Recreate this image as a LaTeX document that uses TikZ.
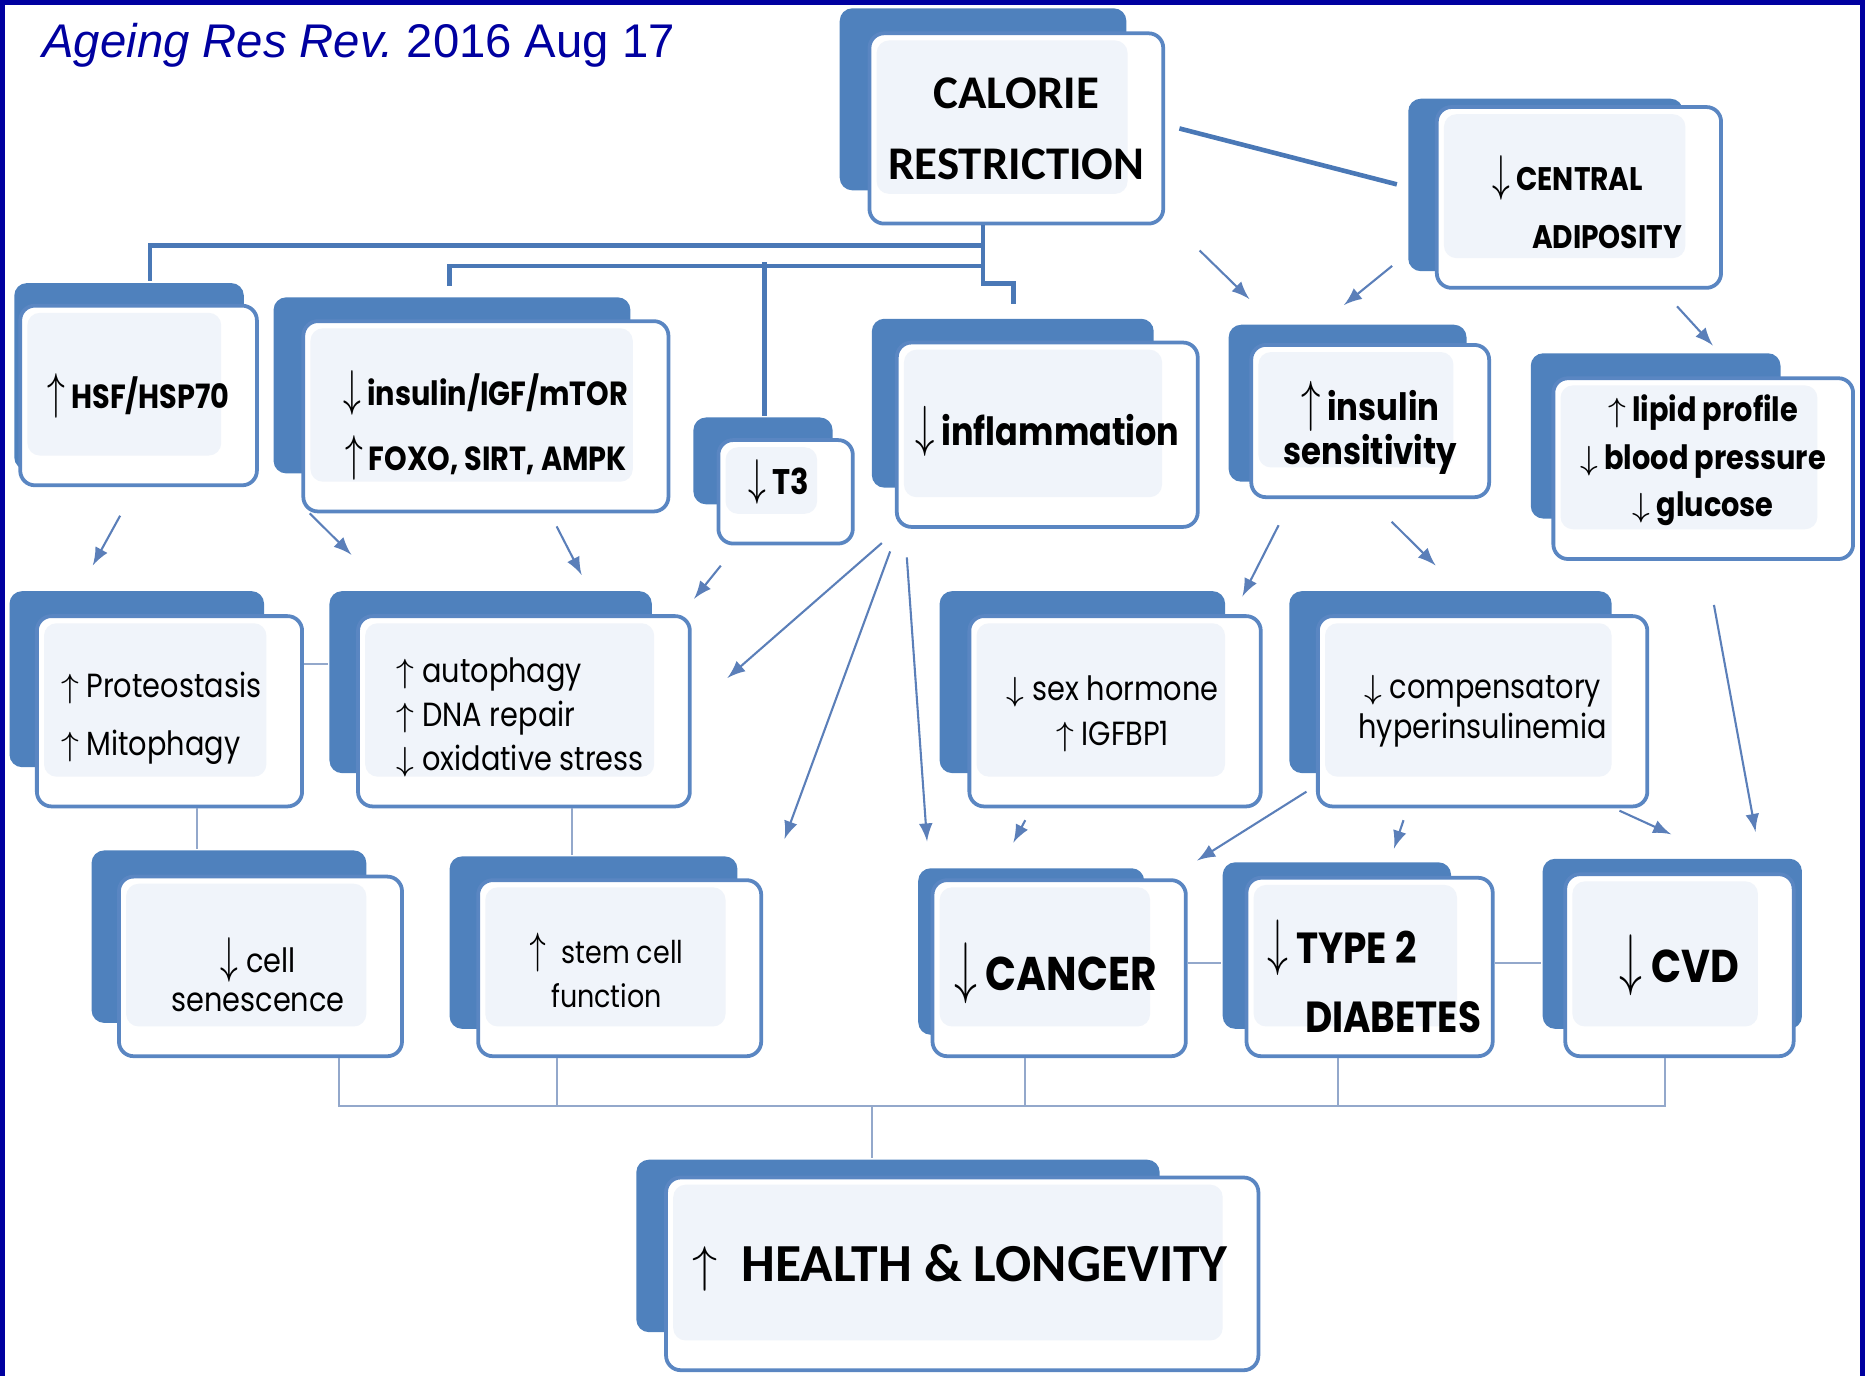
\documentclass[tikz,border=0pt]{standalone}
\usepackage{fontspec}
\usepackage{graphicx}
\setmainfont{Poppins}[FakeStretch=0.86]
\newfontfamily\crfont{Carlito}
\newfontfamily\jfont{Liberation Sans}
\usetikzlibrary{arrows,fit,positioning}
\definecolor{plate}{HTML}{4F81BD}
\definecolor{rim}{HTML}{5A86C2}
\definecolor{tint}{HTML}{F0F4FA}
\definecolor{trunk}{HTML}{4A78B6}
\definecolor{twig}{HTML}{5B7FB9}
\definecolor{busgray}{HTML}{93A8CB}
\definecolor{framecol}{HTML}{0000A0}
\newcommand{\tallup}{\scalebox{1}[1.5]{$\uparrow$}}
\newcommand{\talldn}{\scalebox{1}[1.5]{$\downarrow$}}
\tikzset{
  backplate/.style={fill=plate, rounded corners=3pt},
  frontbox/.style={draw=rim, line width=0.9pt, fill=white, rounded corners=3.5pt,
    inner sep=0pt,
    path picture={\fill[tint, rounded corners=3pt]
      ([shift={(6,6)}]path picture bounding box.north west) rectangle
      ([shift={(-30,-25)}]path picture bounding box.south east);}},
  boxtext/.style={inner sep=0pt, align=center},
  trunkline/.style={draw=trunk, line width=1.1pt},
  twigarrow/.style={draw=twig, line width=0.5pt, -latex},
  busline/.style={draw=busgray, line width=0.5pt},
}
\begin{document}
\begin{tikzpicture}[x=0.01cm,y=-0.01cm]
\useasboundingbox (0,0) rectangle (1568,1157);
% frame
\fill[framecol] (0,0) rectangle (4,1157);
\fill[framecol] (0,0) rectangle (1568,4);
\fill[framecol] (1564,0) rectangle (1568,1157);
\node[anchor=west, inner sep=0pt, text=framecol, font=\jfont\fontsize{11.3}{14}\selectfont] (journal) at (35,38)
  {\textit{Ageing Res Rev.}\ 2016 Aug 17};
% back plates
\foreach \xa/\ya/\xb/\yb in {706/7/947/160, 1184/83/1415/228, 12/238/205/395,
  230/250/530/398, 583/351/700/424, 733/268/970/410, 1033/273/1233/405,
  1287/297/1497/436, 8/497/222/645, 277/497/548/650, 790/497/1030/650,
  1084/497/1355/650, 77/715/308/860, 378/720/620/865, 772/730/962/870,
  1028/725/1220/865, 1297/722/1515/865, 535/975/975/1120}
  \fill[backplate] (\xa,\ya) rectangle (\xb,\yb);
% front boxes
\node[frontbox, fit={(731,28) (978,188)}] (cr) {};
\node[frontbox, fit={(1208,90) (1447,242)}] (ca) {};
\node[frontbox, fit={(17,257) (216,408)}] (hsf) {};
\node[frontbox, fit={(255,270) (562,430)}] (ins) {};
\node[frontbox, fit={(604,370) (717,457)}] (tt) {};
\node[frontbox, fit={(754,288) (1007,443)}] (infl) {};
\node[frontbox, fit={(1052,290) (1252,418)}] (sens) {};
\node[frontbox, fit={(1306,318) (1558,470)}] (lip) {};
\node[frontbox, fit={(31,518) (254,678)}] (prot) {};
\node[frontbox, fit={(301,518) (580,678)}] (auto) {};
\node[frontbox, fit={(815,518) (1060,678)}] (sex) {};
\node[frontbox, fit={(1108,518) (1385,678)}] (comp) {};
\node[frontbox, fit={(100,737) (338,888)}] (sen) {};
\node[frontbox, fit={(402,740) (640,888)}] (stem) {};
\node[frontbox, fit={(784,740) (997,888)}] (canc) {};
\node[frontbox, fit={(1048,738) (1255,888)}] (tdm) {};
\node[frontbox, fit={(1316,735) (1508,888)}] (cvd) {};
\node[frontbox, fit={(560,990) (1058,1152)}] (hl) {};
% texts
\node[boxtext, font=\crfont\bfseries\fontsize{11.2}{17}\selectfont] (crtext) at (cr)
  {CALORIE\\RESTRICTION};
\node[boxtext, align=left, font=\bfseries\fontsize{7.8}{13.7}\selectfont] (catext) at ([shift={(7,4)}]ca.center)
  {\talldn\ CENTRAL\\\hspace*{9.4pt}ADIPOSITY};
\node[boxtext, font=\bfseries\fontsize{8}{10}\selectfont] (hsftext) at (hsf)
  {\tallup\ HSF/HSP70};
\node[boxtext, font=\bfseries\fontsize{8}{15.6}\selectfont] (instext) at ([shift={(0,8)}]ins.center)
  {\talldn\ insulin/IGF/mTOR\\\tallup\ FOXO, SIRT, AMPK};
\node[boxtext, font=\bfseries\fontsize{8.5}{10}\selectfont] (tttext) at ([shift={(-6,-8)}]tt.center)
  {\talldn\ T3};
\node[boxtext, font=\bfseries\fontsize{9.3}{11}\selectfont] (infltext) at ([shift={(0,-3)}]infl.center)
  {\talldn\ inflammation};
\node[boxtext, font=\bfseries\fontsize{9}{10.5}\selectfont] (senstext) at ([shift={(0,6)}]sens.center)
  {\tallup\ insulin\\sensitivity};
\node[boxtext, font=\bfseries\fontsize{8}{11.4}\selectfont] (liptext) at ([shift={(0,-7)}]lip.center)
  {$\uparrow$ lipid profile\\$\downarrow$ blood pressure\\$\downarrow$ glucose};
\node[boxtext, align=left, font=\fontsize{8}{13.7}\selectfont] (prottext) at ([shift={(-7,6)}]prot.center)
  {$\uparrow$ Proteostasis\\$\uparrow$ Mitophagy};
\node[boxtext, align=left, font=\fontsize{8}{10.5}\selectfont] (autotext) at ([shift={(-3,5)}]auto.center)
  {$\uparrow$ autophagy\\$\uparrow$ DNA repair\\$\downarrow$ oxidative stress};
\node[boxtext, font=\fontsize{8}{10.8}\selectfont] (sextext) at ([shift={(-2,2)}]sex.center)
  {$\downarrow$ sex hormone\\$\uparrow$ IGFBP1};
\node[boxtext, font=\fontsize{8}{9.4}\selectfont] (comptext) at (comp)
  {$\downarrow$ compensatory\\hyperinsulinemia};
\node[boxtext, font=\fontsize{8}{9.1}\selectfont] (sentext) at ([shift={(-2,7)}]sen.center)
  {\talldn\ cell\\senescence};
\node[boxtext, font=\fontsize{7.5}{10.5}\selectfont] (stemtext) at ([shift={(-11,2)}]stem.center)
  {\tallup\ \ stem cell\\function};
\node[boxtext, font=\bfseries\fontsize{11.3}{12}\selectfont] (canctext) at ([shift={(-3,4)}]canc.center)
  {\talldn\ CANCER};
\node[boxtext, align=left, font=\bfseries\fontsize{10.4}{16.5}\selectfont] (tdmtext) at ([shift={(4,8)}]tdm.center)
  {\talldn\ TYPE 2\\\hspace*{9pt}DIABETES};
\node[boxtext, font=\bfseries\fontsize{11}{12}\selectfont] (cvdtext) at (cvd)
  {\talldn\ CVD};
\node[boxtext, font=\crfont\bfseries\fontsize{12.8}{15}\selectfont] (hltext) at ([shift={(-2,-5)}]hl.center)
  {$\uparrow$\ \ HEALTH \& LONGEVITY};
% tree from calorie restriction
\draw[trunkline] ([shift={(-28,0)}]cr.south) -- ++(0,49) -| ([shift={(-28.5,-31)}]infl.north);
\draw[trunkline] ([shift={(-28,17)}]cr.south) -| ([shift={(9.5,-19)}]hsf.north);
\draw[trunkline] ([shift={(-28,34)}]cr.south) -| ([shift={(-30.5,-28)}]ins.north);
\draw[trunkline] ([shift={(-17.5,-19)}]tt.north) -- ++(0,-129);
\draw[trunkline] ([shift={(12,0)}]cr.east) -- ([shift={(-32,-11)}]ca.west);
% arrows
\draw[twigarrow] ([shift={(29,21)}]cr.south east) -- ([shift={(0,-37)}]sens.north west);
\draw[twigarrow] ([shift={(-36,-20)}]ca.south west) -- ([shift={(-22,-32)}]sens.north);
\draw[twigarrow] ([shift={(82.5,14)}]ca.south) -- ([shift={(8,-26)}]lip.north);
\draw[twigarrow] ([shift={(-15.5,24)}]hsf.south) -- ([shift={(-64.5,-41)}]prot.north);
\draw[twigarrow] ([shift={(7,0)}]ins.south west) -- ([shift={(-4,-50)}]auto.north west);
\draw[twigarrow] ([shift={(59.5,11)}]ins.south) -- ([shift={(48.5,-33)}]auto.north);
\draw[twigarrow] ([shift={(-54.5,17)}]tt.south) -- ([shift={(2,-13)}]auto.north east);
\draw[twigarrow] ([shift={(-11,12)}]infl.south west) -- ([shift={(30,-28)}]auto.east);
\draw[twigarrow] ([shift={(-4,19)}]infl.south west) -- ([shift={(18,-33)}]stem.north east);
\draw[twigarrow] ([shift={(10,24)}]infl.south west) -- ([shift={(-3,-31)}]canc.north west);
\draw[twigarrow] ([shift={(-77,22)}]sens.south) -- ([shift={(-17,-15)}]sex.north east);
\draw[twigarrow] ([shift={(18,19)}]sens.south) -- ([shift={(-39.5,-41)}]comp.north);
\draw[twigarrow] ([shift={(9,37)}]lip.south) -- ([shift={(64,-34)}]cvd.north);
\draw[twigarrow] ([shift={(-75.5,10)}]sex.south) -- ([shift={(-38.5,-30)}]canc.north);
\draw[twigarrow] ([shift={(-8,-14)}]comp.south west) -- ([shift={(8,-15)}]canc.north east);
\draw[twigarrow] ([shift={(-66.5,10)}]comp.south) -- ([shift={(20.5,-23)}]tdm.north);
\draw[twigarrow] ([shift={(-25,2)}]comp.south east) -- ([shift={(-7,-32)}]cvd.north);
% plain links
\draw[busline] ([shift={(0,-40)}]prot.east) -- ([shift={(-24,-40)}]auto.west);
\draw[busline] ([shift={(23.5,0)}]prot.south) -- ([shift={(-53,-22)}]sen.north);
\draw[busline] ([shift={(40.5,0)}]auto.south) -- ([shift={(-40,-20)}]stem.north);
\draw[busline] ([shift={(0,-4)}]canc.east) -- ([shift={(-20,-3)}]tdm.west);
\draw[busline] ([shift={(0,-3)}]tdm.east) -- ([shift={(-19,-1.5)}]cvd.west);
\coordinate (bus) at (733,930);
\draw[busline] ([shift={(66,0)}]sen.south) |- (bus);
\draw[busline] ([shift={(-53,0)}]stem.south) |- (bus);
\draw[busline] ([shift={(-28.5,0)}]canc.south) |- (bus);
\draw[busline] ([shift={(-26.5,0)}]tdm.south) |- (bus);
\draw[busline] ([shift={(-12,0)}]cvd.south) |- (bus);
\draw[busline] (bus) -- ([shift={(-76,-15)}]hl.north);
\end{tikzpicture}
\end{document}
